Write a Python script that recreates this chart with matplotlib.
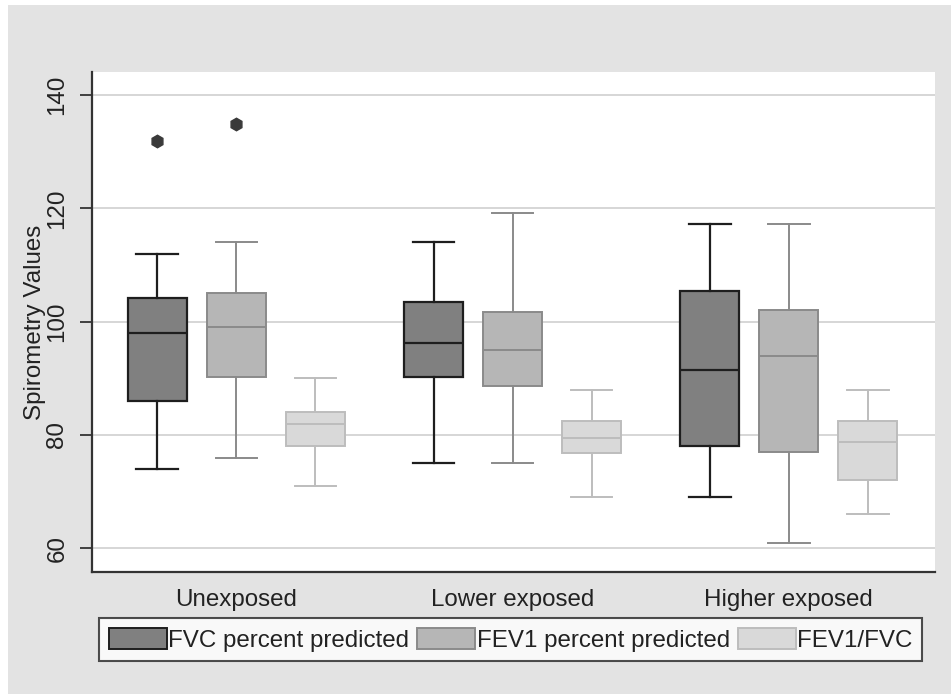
import numpy as np
import matplotlib
matplotlib.use('Agg')
import matplotlib.pyplot as plt
from matplotlib.patches import Rectangle, Patch

# ── data ──────────────────────────────────────────────────────────
groups = ['Unexposed', 'Lower exposed', 'Higher exposed']
series = ['FVC percent predicted', 'FEV1 percent predicted', 'FEV1/FVC']

fvc_whislo = [74, 75, 69]
fvc_q1 = [86, 90.2, 78]
fvc_med = [98, 96.3, 91.5]
fvc_q3 = [104.2, 103.5, 105.5]
fvc_whishi = [112, 114, 117.2]
fvc_fliers = [[132], [], []]

fev1_whislo = [76, 75, 61]
fev1_q1 = [90.2, 88.6, 77]
fev1_med = [99, 95, 94]
fev1_q3 = [105.1, 101.8, 102]
fev1_whishi = [114, 119.2, 117.2]
fev1_fliers = [[135], [], []]

ratio_whislo = [71, 69, 66]
ratio_q1 = [78.1, 76.9, 72]
ratio_med = [82, 79.5, 78.8]
ratio_q3 = [84, 82.4, 82.4]
ratio_whishi = [90, 88, 88]
ratio_fliers = [[], [], []]

yticks = [60, 80, 100, 120, 140]

# ── styling ───────────────────────────────────────────────────────
FILLS = ['#808080', '#b6b6b6', '#d9d9d9']
EDGES = ['#1e1e1e', '#8a8a8a', '#bdbdbd']
LWS = [1.6, 1.4, 1.4]
TXT = '#222222'

plt.rcParams['font.family'] = ['Liberation Sans', 'DejaVu Sans']
FS = 17.4

fig = plt.figure(figsize=(9.51, 6.94), dpi=100, facecolor='white')
fig.patches.append(Rectangle((8 / 951, 0), 1 - 8 / 951, 1 - 5 / 694,
                             transform=fig.transFigure,
                             facecolor='#e3e3e3', edgecolor='none',
                             zorder=-10))

ax = fig.add_axes([92 / 951, 1 - 572 / 694, (935 - 92) / 951, (572 - 72) / 694])
ax.set_facecolor('white')

all_stats = [
    (fvc_whislo, fvc_q1, fvc_med, fvc_q3, fvc_whishi, fvc_fliers),
    (fev1_whislo, fev1_q1, fev1_med, fev1_q3, fev1_whishi, fev1_fliers),
    (ratio_whislo, ratio_q1, ratio_med, ratio_q3, ratio_whishi, ratio_fliers),
]

offset = 0.286
width = 0.214
capw = 0.15
base = np.arange(len(groups))

for k, (lo, q1, med, q3, hi, fl) in enumerate(all_stats):
    stats = [dict(whislo=lo[i], q1=q1[i], med=med[i], q3=q3[i],
                  whishi=hi[i], fliers=fl[i]) for i in range(len(groups))]
    pos = base + (k - 1) * offset
    c, f, lw = EDGES[k], FILLS[k], LWS[k]
    ax.bxp(stats, positions=pos, widths=width, capwidths=capw,
           patch_artist=True, showfliers=True, manage_ticks=False,
           boxprops=dict(facecolor=f, edgecolor=c, linewidth=lw),
           medianprops=dict(color=c, linewidth=lw),
           whiskerprops=dict(color=c, linewidth=lw),
           capprops=dict(color=c, linewidth=lw),
           flierprops=dict(marker='h', markersize=9, markerfacecolor='#3a3a3a',
                           markeredgecolor='#3a3a3a'),
           zorder=3)

ax.set_xlim(-0.522, 2.529)
ax.set_ylim(55.8, 144.1)
ax.set_yticks(yticks)
ax.set_yticklabels([str(v) for v in yticks], rotation=90, va='center',
                   fontsize=FS, color=TXT)
ax.set_xticks(base)
ax.set_xticklabels(groups, fontsize=FS, color=TXT)
ax.tick_params(axis='x', length=0, pad=12)
ax.tick_params(axis='y', length=9, width=1.3, color='#333333', pad=8)
ax.yaxis.grid(True, color='#d6d6d6', linewidth=1.4, zorder=0)
ax.set_axisbelow(True)

for s in ('top', 'right'):
    ax.spines[s].set_visible(False)
for s in ('left', 'bottom'):
    ax.spines[s].set_color('#333333')
    ax.spines[s].set_linewidth(1.6)

ax.set_ylabel('Spirometry Values', fontsize=FS, color=TXT)
ax.yaxis.set_label_coords(-0.055, 0.5)

handles = [Patch(facecolor=FILLS[k], edgecolor=EDGES[k], linewidth=1.4)
           for k in range(3)]
leg = fig.legend(handles, series, loc='upper left', ncol=3,
                 bbox_to_anchor=(99 / 951, 1 - 618 / 694),
                 borderaxespad=0, fontsize=FS, frameon=True, fancybox=False,
                 handlelength=2.4, handleheight=1.0, handletextpad=0.05,
                 columnspacing=0.35, borderpad=0.4)
leg.get_frame().set_edgecolor('#222222')
leg.get_frame().set_linewidth(1.5)
for t in leg.get_texts():
    t.set_color(TXT)

fig.savefig('out.png', dpi=100, facecolor=fig.get_facecolor())
